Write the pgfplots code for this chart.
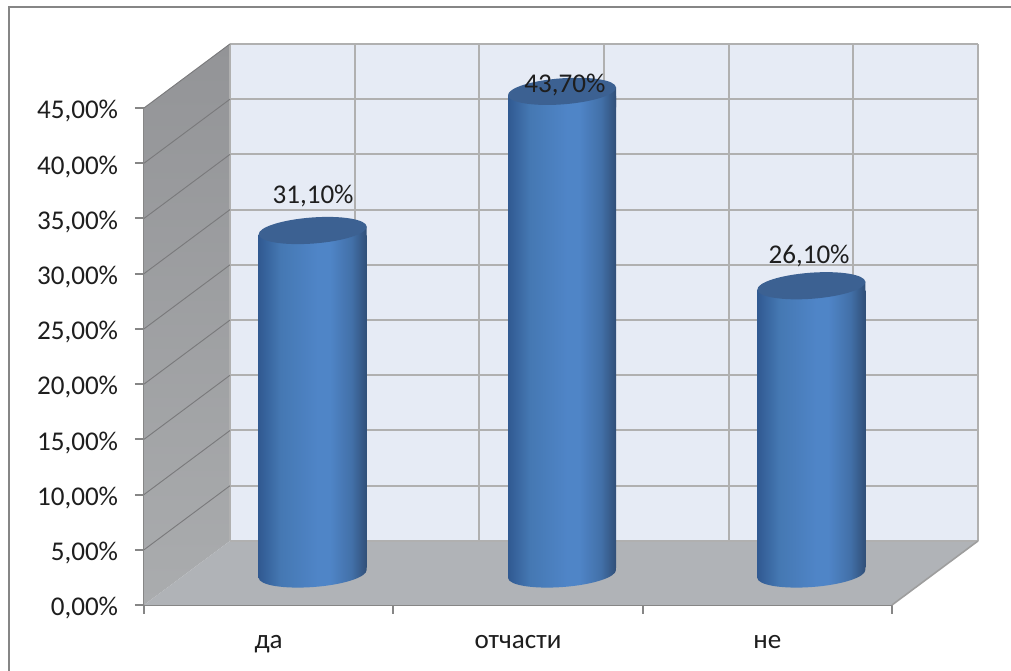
\documentclass[border=0pt]{standalone}
\usepackage{pgfplots}
\pgfplotsset{compat=1.18}
\usepackage{fontspec}
\setmainfont{Carlito}
\definecolor{wall}{RGB}{230,235,245}
\definecolor{floorc}{RGB}{176,179,183}
\definecolor{sidet}{RGB}{147,148,151}
\definecolor{sideb}{RGB}{170,172,174}
\definecolor{gridc}{RGB}{176,176,176}
\definecolor{sgrid}{RGB}{122,122,124}
\definecolor{axisc}{RGB}{134,134,134}
\definecolor{capc}{RGB}{60,97,146}
\definecolor{txt}{RGB}{30,30,30}
\pgfdeclarehorizontalshading{cyl}{100bp}{
  rgb(0bp)=(0.19,0.35,0.57);
  rgb(25bp)=(0.19,0.35,0.57);
  rgb(35bp)=(0.27,0.47,0.70);
  rgb(52bp)=(0.31,0.52,0.78);
  rgb(58bp)=(0.31,0.52,0.78);
  rgb(68bp)=(0.26,0.44,0.66);
  rgb(75bp)=(0.19,0.31,0.47);
  rgb(100bp)=(0.19,0.31,0.47)}
% upper end of a cylinder: a shaded piece under the tilted cap, then the cap
\pgfdeclareplotmark{cyltop}{%
  \pgfpathmoveto{\pgfqpoint{-40.5pt}{-3pt}}%
  \pgfpathlineto{\pgfqpoint{40.5pt}{3pt}}%
  \pgfpathlineto{\pgfqpoint{40.5pt}{-12pt}}%
  \pgfpathlineto{\pgfqpoint{-40.5pt}{-12pt}}%
  \pgfpathclose
  \pgfshadepath{cyl}{0}%
  \pgfusepath{discard}%
  \pgfpathellipse{\pgfpointorigin}{\pgfqpoint{40.5pt}{3pt}}{\pgfqpoint{-0.72pt}{9.75pt}}%
  \pgfusepathqfill}
\pgfdeclareplotmark{cylbot}{%
  \pgfpathmoveto{\pgfqpoint{-40.5pt}{-3pt}}%
  \pgfpathcurveto{\pgfqpoint{-40.1pt}{-8.4pt}}{\pgfqpoint{-21.6pt}{-11.4pt}}{\pgfqpoint{0.72pt}{-9.75pt}}%
  \pgfpathcurveto{\pgfqpoint{23.1pt}{-8.1pt}}{\pgfqpoint{40.5pt}{-2.4pt}}{\pgfqpoint{40.5pt}{3pt}}%
  \pgfpathlineto{\pgfqpoint{40.5pt}{12pt}}%
  \pgfpathlineto{\pgfqpoint{-40.5pt}{12pt}}%
  \pgfpathclose
  \pgfshadepath{cyl}{0}%
  \pgfusepath{discard}}
\begin{document}
\begin{tikzpicture}[x=0.75pt,y=0.75pt]
\path[use as bounding box] (0,0) rectangle (1011,671);
\draw[axisc,line width=1.5pt] (8.5,0) -- (8.5,664) -- (1011,664);
% main frame: walls, floor, ticks
\begin{axis}[
  at={(108pt,49.5pt)},anchor=south west,
  scale only axis,width=561pt,height=372.75pt,
  xmin=0,xmax=3,ymin=0,ymax=45,clip=false,
  axis x line*=bottom,axis y line*=left,
  axis line style={axisc,line width=1.5pt,-},
  major tick style={axisc,line width=1.5pt},
  major tick length=6.75pt,
  tick align=outside,
  tick pos=lower,
  ytick={0,5,...,45},
  xtick={0,1,2,3},xticklabels={},
  extra x ticks={0.5,1.5,2.5},
  extra x tick labels={да,отчасти,не},
  extra x tick style={major tick length=0pt,tick label style={yshift=-19pt}},
  /pgf/number format/assume math mode=true,
  yticklabel={\pgfmathprintnumber[fixed,fixed zerofill,precision=2,use comma]{\tick}\%},
  tick label style={font=\fontsize{20.3}{24}\selectfont,text=txt},
  yticklabel style={inner sep=0pt,xshift=-12.5pt,yshift=-2.5pt},
]
\addplot[fill=wall,draw=none,forget plot] coordinates {(0.345,5.8)(3.345,5.8)(3.345,50.8)(0.345,50.8)} --cycle;
\addplot[top color=sidet,bottom color=sideb,draw=none,forget plot] coordinates {(0,0)(0.345,5.8)(0.345,50.8)(0,45)} --cycle;
\addplot[fill=floorc,draw=none,forget plot] coordinates {(0,0)(3,0)(3.345,5.8)(0.345,5.8)} --cycle;
% horizontal grid on back wall
\addplot[gridc,line width=1.5pt,forget plot,unbounded coords=jump] coordinates {
(0.345,10.8)(3.345,10.8)(nan,nan)
(0.345,15.8)(3.345,15.8)(nan,nan)
(0.345,20.8)(3.345,20.8)(nan,nan)
(0.345,25.8)(3.345,25.8)(nan,nan)
(0.345,30.8)(3.345,30.8)(nan,nan)
(0.345,35.8)(3.345,35.8)(nan,nan)
(0.345,40.8)(3.345,40.8)(nan,nan)
(0.345,45.8)(3.345,45.8)(nan,nan)
(0.345,50.8)(3.345,50.8)(nan,nan)
(0.345,5.8)(3.345,5.8)(nan,nan)
(0.845,5.8)(0.845,50.8)(nan,nan)
(1.345,5.8)(1.345,50.8)(nan,nan)
(1.845,5.8)(1.845,50.8)(nan,nan)
(2.345,5.8)(2.345,50.8)(nan,nan)
(2.845,5.8)(2.845,50.8)(nan,nan)
(3.345,5.8)(3.345,50.8)(nan,nan)
(0.345,5.8)(0.345,50.8)
};
% grid on side wall
\addplot[sgrid,line width=0.7pt,forget plot,unbounded coords=jump] coordinates {
(0,5)(0.345,10.8)(nan,nan)
(0,10)(0.345,15.8)(nan,nan)
(0,15)(0.345,20.8)(nan,nan)
(0,20)(0.345,25.8)(nan,nan)
(0,25)(0.345,30.8)(nan,nan)
(0,30)(0.345,35.8)(nan,nan)
(0,35)(0.345,40.8)(nan,nan)
(0,40)(0.345,45.8)(nan,nan)
(0,45)(0.345,50.8)
};
% floor front-right edge
\addplot[axisc!80,line width=1.2pt,forget plot] coordinates {(3,0)(3.345,5.8)};
\end{axis}
% cylinder bodies
\begin{axis}[
  at={(141pt,77.25pt)},anchor=south west,
  scale only axis,width=561pt,height=372.75pt,
  xmin=0,xmax=3,ymin=1,ymax=46,clip=false,
  hide axis,
]
\addplot[ybar,bar width=81pt,bar shift=0pt,draw=none,shading=cyl,forget plot] coordinates {(0.5,31.1)};
\addplot[ybar,bar width=81pt,bar shift=0pt,draw=none,shading=cyl,forget plot] coordinates {(1.5,43.7)};
\addplot[ybar,bar width=81pt,bar shift=0pt,draw=none,shading=cyl,forget plot] coordinates {(2.5,26.1)};
\end{axis}
% cylinder ends and value labels
\begin{axis}[
  at={(141pt,72.75pt)},anchor=south west,
  scale only axis,width=561pt,height=372.75pt,
  xmin=0,xmax=3,ymin=0,ymax=45,clip=false,
  hide axis,
  /pgf/number format/assume math mode=true,
]
\addplot[only marks,mark=cylbot,forget plot] coordinates {(0.5,0)(1.5,0)(2.5,0)};
\addplot[only marks,mark=cyltop,color=capc,forget plot] coordinates {(0.5,31.1)(1.5,43.7)(2.5,26.1)};
\pgfplotsset{lbl/.style={draw=none,mark=none,forget plot,
  nodes near coords={\pgfmathprintnumber[fixed,fixed zerofill,precision=2,use comma]{\pgfplotspointmeta}\%},
  nodes near coords align={center},
  every node near coord/.append style={font=\fontsize{20.3}{24}\selectfont,text=txt,inner sep=0pt,anchor=center}}}
\addplot[lbl,every node near coord/.append style={xshift=0.3pt,yshift=26pt}] coordinates {(0.5,31.1)};
\addplot[lbl,every node near coord/.append style={xshift=2.2pt,yshift=4.5pt}] coordinates {(1.5,43.7)};
\addplot[lbl,every node near coord/.append style={xshift=-1.7pt,yshift=22pt}] coordinates {(2.5,26.1)};
\end{axis}
\end{tikzpicture}
\end{document}
